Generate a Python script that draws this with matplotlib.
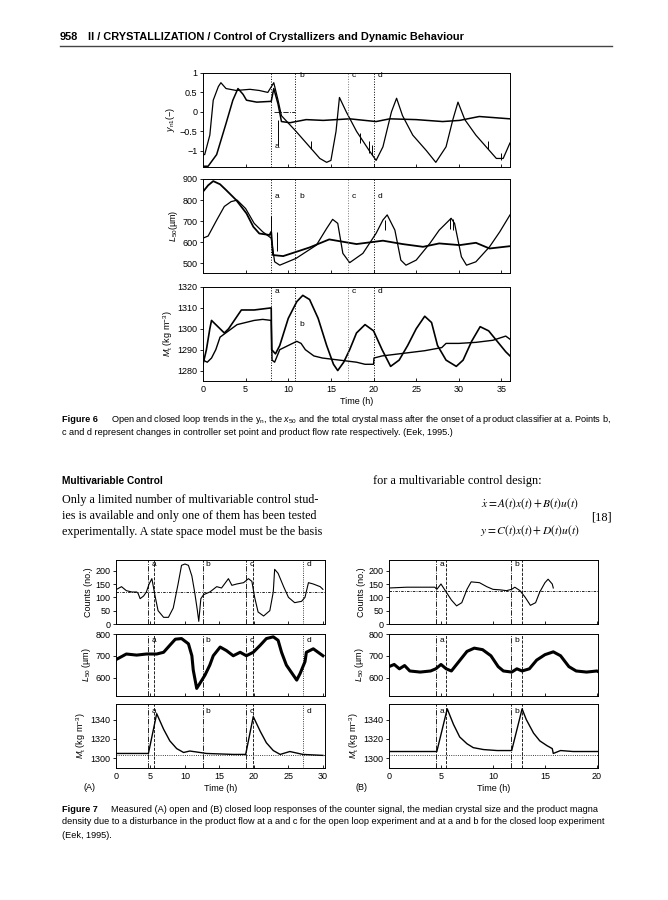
import matplotlib
matplotlib.use("Agg")
import matplotlib.pyplot as plt

W, H = 668, 900
plt.rcParams['font.family'] = ['Liberation Sans', 'DejaVu Sans']
plt.rcParams['mathtext.fontset'] = 'custom'
plt.rcParams['mathtext.rm'] = 'Liberation Sans'
plt.rcParams['mathtext.it'] = 'Liberation Sans:italic'
plt.rcParams['mathtext.bf'] = 'Liberation Sans:bold'

# ---------------- Figure 6 data ----------------
f6_events = [8.0, 10.8, 17.0, 20.0]
f6_event_names = ['a', 'b', 'c', 'd']

yn_open_t = [0, 0.2, 0.8, 1.2, 1.8, 2.1, 2.7, 3.9, 5.5, 6.6, 7.6, 8.3, 8.8, 9.2, 10.9, 12.5, 13.7, 14.5, 15.0,
             15.6, 16.0, 16.8, 18.0, 19.5, 20.3, 21.1, 22.1, 22.7, 23.4, 24.6, 26.2, 27.3, 28.5, 29.3, 29.9,
             30.7, 32.0, 33.6, 34.4, 35.2, 36.0]
yn_open_v = [-1.1, -1.1, -0.6, 0.3, 0.65, 0.75, 0.6, 0.55, 0.58, 0.55, 0.5, 0.75, 0.3, -0.1, -0.5, -0.9, -1.2, -1.3,
             -1.25, -0.5, 0.37, 0.0, -0.5, -1.0, -1.25, -0.9, 0.0, 0.35, -0.1, -0.6, -1.0, -1.3, -0.9, -0.2, 0.25,
             -0.2, -0.6, -1.0, -1.2, -1.2, -0.8]
yn_closed_t = [0, 0.6, 1.6, 2.7, 3.5, 4.1, 4.7, 5.1, 6.3, 8.0, 8.3, 8.8, 9.2, 10.2, 12.1, 14.1, 17.2, 20.3, 21.9,
               25.0, 28.1, 30.1, 32.4, 36.0]
yn_closed_v = [-1.4, -1.4, -1.1, -0.3, 0.3, 0.6, 0.45, 0.3, 0.25, 0.27, 0.6, 0.2, -0.25, -0.28, -0.2, -0.22, -0.18,
               -0.25, -0.18, -0.2, -0.25, -0.22, -0.12, -0.18]
yn_spike_t = [8.8, 12.7, 18.4, 19.5, 19.8, 33.4, 35.0]
yn_spike_lo = [-0.85, -0.95, -0.8, -1.05, -1.1, -0.95, -1.25]
yn_spike_hi = [-0.2, -0.75, -0.55, -0.75, -0.85, -0.75, -1.05]

l50_open_t = [0, 0.6, 1.6, 2.5, 3.3, 4.0, 5.0, 6.0, 7.0, 8.0, 8.4, 9.0, 10.9, 13.3, 14.5, 15.2, 15.8, 16.4, 17.2,
              18.75, 20.3, 21.1, 21.6, 22.5, 23.2, 23.8, 25.0, 26.6, 27.7, 29.1, 29.5, 30.3, 30.9, 32.0, 33.6,
              34.8, 36.0]
l50_open_v = [620, 630, 705, 770, 793, 800, 760, 690, 650, 620, 508, 492, 524, 587, 666, 709, 690, 548, 504, 548,
              643, 706, 730, 658, 516, 492, 516, 595, 658, 714, 690, 532, 492, 508, 579, 650, 730]
l50_closed_t = [0, 0.6, 1.2, 2.0, 2.7, 3.9, 5.1, 5.9, 6.6, 7.8, 8.0, 8.2, 9.4, 11.0, 12.5, 14.8, 16.4, 18.0, 21.1,
                23.4, 25.8, 27.7, 30.1, 32.0, 33.6, 36.0]
l50_closed_v = [840, 870, 890, 875, 848, 800, 737, 674, 642, 635, 650, 540, 535, 556, 576, 614, 603, 592, 608, 592,
                579, 595, 587, 598, 571, 582]
l50_spike_t = [8.0, 8.7, 21.3, 29.0, 29.3]
l50_spike_lo = [620, 560, 660, 665, 660]
l50_spike_hi = [725, 650, 705, 715, 712]

mt_open_t = [0, 0.4, 0.8, 1.0, 1.5, 2.0, 2.5, 3.0, 3.5, 4.0, 4.5, 6.0, 7.0, 8.0, 8.05, 8.5, 9.0, 10.0, 11.0, 11.7,
             12.5, 13.5, 14.5, 15.3, 15.8, 16.5, 17.2, 18.0, 19.0, 20.0, 21.0, 22.0, 23.0, 24.0, 25.0, 26.0,
             26.8, 27.5, 28.5, 29.7, 30.5, 31.5, 32.5, 33.5, 34.5, 35.5, 36.0]
mt_open_v = [1283, 1290, 1300, 1304, 1302, 1300, 1298, 1300, 1303, 1306, 1309, 1309, 1309.5, 1310, 1290, 1288,
             1292, 1305, 1313, 1316, 1314, 1305, 1292, 1283, 1280, 1284, 1290, 1298, 1302, 1299, 1290, 1282,
             1285, 1292, 1300, 1306, 1303, 1292, 1285, 1282, 1285, 1294, 1301, 1299, 1294, 1289, 1287]
mt_closed_t = [0, 0.5, 1.0, 1.5, 2.0, 3.0, 4.0, 5.0, 6.0, 7.0, 8.0, 8.1, 8.4, 9.0, 10.0, 11.0, 11.5, 12.0, 13.0,
               14.0, 15.0, 16.0, 17.0, 18.0, 19.0, 20.0, 20.05, 21.0, 22.0, 24.0, 26.0, 28.0, 28.5, 30.0, 32.0,
               34.0, 35.5, 36.0]
mt_closed_v = [1285, 1284, 1286, 1290, 1296, 1299, 1302, 1303, 1304, 1304.5, 1304, 1285, 1284, 1290, 1292, 1294,
               1293, 1290, 1287, 1286, 1285.5, 1285, 1284.5, 1284, 1283, 1283, 1286, 1287, 1287.5, 1288.5, 1289.5,
               1291, 1293, 1293, 1293.5, 1294.5, 1296.5, 1295]

# ---------------- Figure 7 data ----------------
a_events = [4.6, 5.5, 12.6, 18.8, 19.8, 27.1]
a_event_styles = ['-.', '--', '-.', '-.', '--', ':']
a_labels = ['a', 'b', 'c', 'd']
a_label_t = [5.2, 13.0, 19.3, 27.6]

a_cnt_t = [0.1, 0.8, 1.5, 2.3, 3.0, 3.2, 3.5, 4.0, 4.4, 4.8, 5.2, 5.7, 6.1, 6.9, 7.6, 8.3, 9.0, 9.5, 10.0, 10.5,
           11.0, 11.4, 11.8, 12.0, 12.3, 12.7, 13.6, 14.6, 15.3, 16.3, 16.8, 17.5, 18.5, 19.2, 19.7, 20.1, 20.6,
           21.4, 22.3, 22.8, 23.0, 23.5, 24.3, 25.0, 25.9, 26.9, 27.4, 27.9, 28.6, 29.6, 30.0]
a_cnt_v = [130, 140, 125, 120, 120, 115, 95, 105, 120, 150, 170, 100, 50, 25, 25, 60, 150, 220, 225, 220, 180, 120,
           50, 10, 95, 110, 120, 140, 135, 170, 145, 150, 155, 170, 160, 100, 45, 30, 50, 120, 205, 190, 140, 100,
           80, 85, 100, 155, 150, 140, 130]
a_l50_t = [0.1, 1.5, 3.0, 4.4, 5.9, 6.9, 7.8, 8.6, 9.5, 10.5, 11.0, 11.2, 11.7, 12.2, 12.9, 13.6, 14.1, 15.1, 16.0,
           17.0, 18.0, 18.9, 19.9, 20.9, 21.8, 22.8, 23.5, 24.0, 24.7, 25.7, 26.2, 26.7, 27.4, 27.6, 28.6, 30.0]
a_l50_v = [684, 708, 703, 708, 708, 716, 748, 776, 779, 755, 700, 634, 550, 575, 611, 657, 700, 740, 724, 700, 716,
           700, 716, 748, 779, 787, 771, 716, 657, 611, 588, 619, 673, 716, 732, 700]
a_mt_t = [0, 4.7, 5.9, 6.9, 7.8, 8.8, 9.8, 10.7, 11.7, 13.1, 17.0, 18.8, 19.9, 20.9, 21.8, 22.8, 23.8, 25.2, 27.1,
          30.0]
a_mt_v = [1305, 1305, 1346, 1330, 1318, 1310, 1306, 1307.5, 1306.5, 1305, 1304, 1304, 1343, 1328, 1316, 1308, 1304,
          1307, 1304, 1303]

b_events = [4.5, 5.5, 11.7, 12.8]
b_event_styles = ['-.', '--', '-.', '--']
b_labels = ['a', 'b']
b_label_t = [4.9, 12.1]
b_cnt_t = [0, 1.7, 4.4, 4.6, 5.0, 5.5, 6.0, 6.5, 7.0, 7.5, 7.9, 8.7, 9.4, 10.0, 10.7, 11.3, 11.8, 12.1, 12.6, 13.1,
           13.6, 14.1, 14.5, 15.0, 15.3, 15.7, 15.8]
b_cnt_v = [135, 138, 138, 130, 150, 120, 90, 68, 80, 130, 158, 155, 140, 130, 128, 125, 130, 138, 125, 100, 70, 80,
           120, 155, 168, 150, 135]
b_l50_t = [0, 0.5, 1, 1.5, 2, 3, 4, 4.5, 5, 5.5, 6, 6.5, 7, 7.5, 8.2, 9, 9.8, 10.5, 11, 11.8, 12.3, 12.8, 13.5,
           14.2, 15, 15.8, 16.5, 17.3, 18, 19, 20, 20.2]
b_l50_v = [650, 660, 640, 655, 630, 625, 630, 640, 660, 640, 630, 660, 690, 720, 735, 728, 700, 650, 630, 625, 640,
           630, 640, 680, 705, 718, 700, 650, 630, 625, 630, 625]
b_mt_t = [0, 4.6, 5.6, 6.2, 6.8, 7.5, 8.1, 9.1, 10.4, 11.8, 12.8, 13.2, 13.9, 14.5, 15.2, 15.7, 15.8, 16.5, 17.7,
          20.1]
b_mt_v = [1307, 1307, 1351, 1335, 1322, 1315, 1311, 1309, 1308, 1308, 1351, 1340, 1326, 1318, 1313, 1310, 1305,
          1308, 1307, 1307]

cnt_setpoint_a = 120
cnt_setpoint_b = 125
mt_base = 1303.5

# ---------------- helpers ----------------
fig = plt.figure(figsize=(W / 100, H / 100), dpi=100)
fig.patch.set_facecolor('white')


def rect(x0, y0, x1, y1):
    return [x0 / W, 1 - y1 / H, (x1 - x0) / W, (y1 - y0) / H]


def ftext(x, y, s, **kw):
    kw.setdefault('va', 'center')
    kw.setdefault('ha', 'left')
    return fig.text(x / W, 1 - y / H, s, **kw)


TICK = 6.5


def style(ax, xlim, ylim, yticks, xticks, show_x=False):
    ax.set_xlim(*xlim)
    ax.set_ylim(*ylim)
    ax.set_yticks(yticks)
    ax.set_xticks(xticks)
    ax.tick_params(axis='y', direction='out', length=2.5, width=0.6, labelsize=TICK, pad=1.5)
    ax.tick_params(axis='x', direction='in', length=2.5, width=0.6, labelsize=TICK, pad=3)
    ax.tick_params(top=False, right=False)
    if not show_x:
        ax.set_xticklabels([])
    for sp in ax.spines.values():
        sp.set_linewidth(0.7)


# ---------------- page header ----------------
ftext(60, 37, '958', fontsize=7.9, fontweight='bold')
ftext(88, 37, 'II / CRYSTALLIZATION / Control of Crystallizers and Dynamic Behaviour', fontsize=7.9,
      fontweight='bold')
fig.add_artist(plt.Line2D([60 / W, 612 / W], [1 - 46 / H, 1 - 46 / H], color='#444444', lw=1.0))

# ---------------- Figure 6 ----------------
x6 = (203, 510)
ax1 = fig.add_axes(rect(x6[0], 73, x6[1], 167))
ax2 = fig.add_axes(rect(x6[0], 179, x6[1], 273))
ax3 = fig.add_axes(rect(x6[0], 287, x6[1], 381))
xt6 = [0, 5, 10, 15, 20, 25, 30, 35]

ax1.plot(yn_open_t, yn_open_v, color='black', lw=0.9)
ax1.plot(yn_closed_t, yn_closed_v, color='black', lw=1.1)
ax1.vlines(yn_spike_t, yn_spike_lo, yn_spike_hi, color='black', lw=0.7)
ax1.plot([8.3, 10.8], [0, 0], color='black', lw=0.6, ls='-.')
style(ax1, (0, 36), (-1.42, 1.0), [-1, -0.5, 0, 0.5, 1], xt6)
ax1.set_yticklabels(['−1', '−0.5', '0', '0.5', '1'])
ax1.set_ylabel(r'$y_{\rm n1}$(−)', fontsize=6.5, labelpad=2)

ax2.plot(l50_open_t, l50_open_v, color='black', lw=0.9)
ax2.plot(l50_closed_t, l50_closed_v, color='black', lw=1.3)
ax2.vlines(l50_spike_t, l50_spike_lo, l50_spike_hi, color='black', lw=0.7)
style(ax2, (0, 36), (455, 900), [500, 600, 700, 800, 900], xt6)
ax2.set_ylabel(r'$L_{50}$(µm)', fontsize=6.5, labelpad=2)

ax3.plot(mt_open_t, mt_open_v, color='black', lw=1.2)
ax3.plot(mt_closed_t, mt_closed_v, color='black', lw=1.0)
style(ax3, (0, 36), (1275, 1320), [1280, 1290, 1300, 1310, 1320], xt6, show_x=True)
ax3.set_ylabel(r'$M_{\rm t}$ (kg m$^{-3}$)', fontsize=6.5, labelpad=2)
ax3.set_xlabel('Time (h)', fontsize=6.5, labelpad=2)

for ax in (ax1, ax2, ax3):
    for t, nm in zip(f6_events, f6_event_names):
        ax.axvline(t, color='black' if nm != 'c' else '#777777', lw=0.7, ls=':')

lab_off = 0.45
ax1.text(8.0 + lab_off, -0.9, 'a', fontsize=6, va='center')
for t, nm in zip(f6_events[1:], f6_event_names[1:]):
    ax1.text(t + lab_off, 0.93, nm, fontsize=6, va='center')
for t, nm in zip(f6_events, f6_event_names):
    ax2.text(t + lab_off, 815, nm, fontsize=6, va='center')
for t, nm in zip(f6_events, f6_event_names):
    if nm == 'b':
        ax3.text(t + lab_off, 1302, nm, fontsize=6, va='center')
    else:
        ax3.text(t + lab_off, 1318, nm, fontsize=6, va='center')

# caption 6
CAP = 6.6
ftext(62, 420, 'Figure 6', fontsize=CAP, fontweight='bold')
ftext(111, 420, r'Open and closed loop trends in the y$_{\rm n}$, the $x_{50}$ and the total crystal mass after the '
                r'onset of a product classifier at a. Points b,', fontsize=CAP)
ftext(62, 433, 'c and d represent changes in controller set point and product flow rate respectively. (Eek, 1995.)',
      fontsize=CAP)

# ---------------- body text ----------------
ftext(62, 481, 'Multivariable Control', fontsize=7.3, fontweight='bold')
body = ['Only a limited number of multivariable control stud-',
        'ies is available and only one of them has been tested',
        'experimentally. A state space model must be the basis']
for i, line in enumerate(body):
    ftext(62, 500 + 16 * i, line, fontsize=8.75, family='Liberation Serif')
ftext(373, 481, 'for a multivariable control design:', fontsize=8.8, family='Liberation Serif')
ftext(530, 504, r'$\dot{x} = A(t)x(t) + B(t)u(t)$', fontsize=8.3, ha='center', math_fontfamily='stix')
ftext(530, 531, r'$y = C(t)x(t) + D(t)u(t)$', fontsize=8.3, ha='center', math_fontfamily='stix')
ftext(612, 518, '[18]', fontsize=8.8, ha='right', family='Liberation Serif')

# ---------------- Figure 7 ----------------
rows = [(560, 624), (634, 696), (704, 768)]


def panel_set(x0, x1, xmax, xticks, cnt_t, cnt_v, l50_t, l50_v, mt_t, mt_v, events, ev_styles, labels, label_t,
              setpoint, tag):
    axc = fig.add_axes(rect(x0, rows[0][0], x1, rows[0][1]))
    axl = fig.add_axes(rect(x0, rows[1][0], x1, rows[1][1]))
    axm = fig.add_axes(rect(x0, rows[2][0], x1, rows[2][1]))
    axc.plot(cnt_t, cnt_v, color='black', lw=0.8)
    axc.axhline(setpoint, color='black', lw=0.6, ls=(0, (3, 1.5, 1, 1.5)))
    style(axc, (0, xmax), (0, 240), [0, 50, 100, 150, 200], xticks)
    axc.set_ylabel('Counts (no.)', fontsize=6.5, labelpad=2)

    axl.plot(l50_t, l50_v, color='black', lw=2.2)
    style(axl, (0, xmax), (515, 800), [600, 700, 800], xticks)
    axl.set_ylabel(r'$L_{50}$ (µm)', fontsize=6.5, labelpad=2)

    axm.plot(mt_t, mt_v, color='black', lw=1.0)
    axm.axhline(mt_base, color='black', lw=0.6, ls=':')
    style(axm, (0, xmax), (1290, 1356), [1300, 1320, 1340], xticks, show_x=True)
    axm.set_ylabel(r'$M_{\rm t}$ (kg m$^{-3}$)', fontsize=6.5, labelpad=2)
    axm.set_xlabel('Time (h)', fontsize=6.5, labelpad=2)

    for ax in (axc, axl, axm):
        for t, ls in zip(events, ev_styles):
            ax.axvline(t, color='black', lw=0.6, ls=ls)
    for t, nm in zip(label_t, labels):
        axc.text(t, 222, nm, fontsize=6, va='center')
        axl.text(t, 772, nm, fontsize=6, va='center')
        axm.text(t, 1348, nm, fontsize=6, va='center')
    ftext(x0 - 33, 787, tag, fontsize=6.5)


panel_set(116, 325, 30.3, [0, 5, 10, 15, 20, 25, 30], a_cnt_t, a_cnt_v, a_l50_t, a_l50_v, a_mt_t, a_mt_v,
          a_events, a_event_styles, a_labels, a_label_t, cnt_setpoint_a, '(A)')
panel_set(389, 598, 20.1, [0, 5, 10, 15, 20], b_cnt_t, b_cnt_v, b_l50_t, b_l50_v, b_mt_t, b_mt_v,
          b_events, b_event_styles, b_labels, b_label_t, cnt_setpoint_b, '(B)')

# caption 7
ftext(62, 809, 'Figure 7', fontsize=CAP, fontweight='bold')
ftext(111, 809, 'Measured (A) open and (B) closed loop responses of the counter signal, the median crystal size '
                'and the product magna', fontsize=CAP)
ftext(62, 822, 'density due to a disturbance in the product flow at a and c for the open loop experiment and at a '
               'and b for the closed loop experiment', fontsize=CAP)
ftext(62, 835, '(Eek, 1995).', fontsize=CAP)

fig.savefig('out.png', dpi=100, facecolor='white')
